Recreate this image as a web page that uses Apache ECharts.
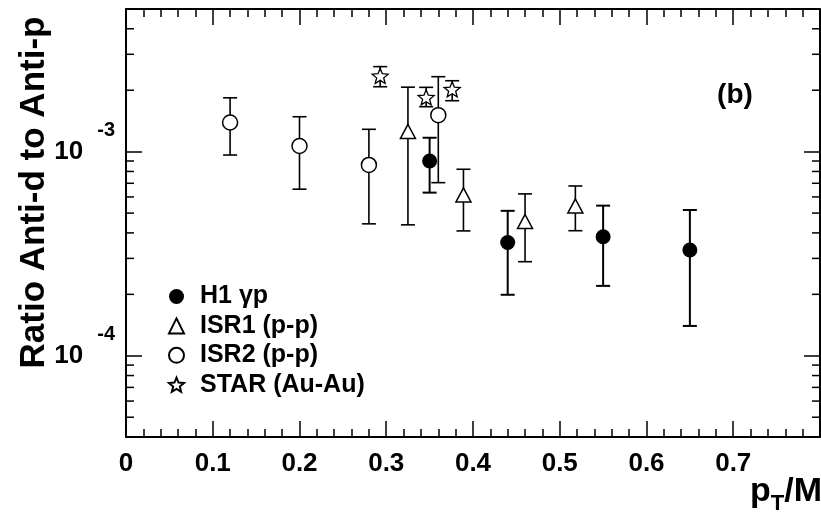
<!DOCTYPE html>
<html><head><meta charset="utf-8">
<script src="https://cdn.jsdelivr.net/npm/echarts@6/dist/echarts.min.js"></script>
<style>html,body{margin:0;padding:0;background:#fff}#c{width:821px;height:514px}</style>
</head><body><div id="c"></div>
<script>
// ---- data ----
const xTickLabels = ['0', '0.1', '0.2', '0.3', '0.4', '0.5', '0.6', '0.7'];
const yMinorTicks = [5e-5, 6e-5, 7e-5, 8e-5, 9e-5, 2e-4, 3e-4, 4e-4, 5e-4, 6e-4, 7e-4, 8e-4, 9e-4, 2e-3, 3e-3, 4e-3];

const seriesNames = ['H1 \u03b3p', 'ISR1 (p-p)', 'ISR2 (p-p)', 'STAR (Au-Au)'];

const h1X  = [0.35, 0.44, 0.55, 0.65];
const h1Y  = [9.0e-4, 3.59e-4, 3.83e-4, 3.30e-4];
const h1Lo = [6.30e-4, 1.99e-4, 2.20e-4, 1.40e-4];
const h1Hi = [1.17e-3, 5.13e-4, 5.44e-4, 5.18e-4];

const isr1X  = [0.325, 0.389, 0.46, 0.518];
const isr1Y  = [1.256e-3, 6.14e-4, 4.55e-4, 5.42e-4];
const isr1Lo = [4.38e-4, 4.09e-4, 2.89e-4, 4.10e-4];
const isr1Hi = [2.07e-3, 8.20e-4, 6.21e-4, 6.79e-4];

const isr2X  = [0.12, 0.2, 0.28, 0.36];
const isr2Y  = [1.39e-3, 1.066e-3, 8.61e-4, 1.51e-3];
const isr2Lo = [9.63e-4, 6.55e-4, 4.43e-4, 7.05e-4];
const isr2Hi = [1.836e-3, 1.483e-3, 1.287e-3, 2.33e-3];

const starX  = [0.293, 0.346, 0.376];
const starY  = [2.35e-3, 1.845e-3, 2.02e-3];
const starLo = [2.08e-3, 1.661e-3, 1.777e-3];
const starHi = [2.61e-3, 2.066e-3, 2.226e-3];

// ---- chart ----
const FONT = '"Liberation Sans", Arial, Helvetica, sans-serif';
const starPath = 'path://M0,-10L2.6,-3.6L9.51,-3.09L4.2,1.37L5.88,8.09L0,4.4L-5.88,8.09L-4.2,1.37L-9.51,-3.09L-2.6,-3.6Z';

function pts(xs, ys) { return xs.map((x, i) => [x, ys[i]]); }
function errs(xs, lo, hi) { return xs.map((x, i) => [x, lo[i], hi[i]]); }

function errRender(capW, lw) {
  return function (params, api) {
    const x = api.value(0), lo = api.value(1), hi = api.value(2);
    const t = api.coord([x, hi]), b = api.coord([x, lo]);
    const st = { stroke: '#000', lineWidth: lw };
    return { type: 'group', children: [
      { type: 'line', shape: { x1: t[0], y1: t[1], x2: b[0], y2: b[1] }, style: st },
      { type: 'line', shape: { x1: t[0] - capW / 2, y1: t[1], x2: t[0] + capW / 2, y2: t[1] }, style: st },
      { type: 'line', shape: { x1: b[0] - capW / 2, y1: b[1], x2: b[0] + capW / 2, y2: b[1] }, style: st }
    ]};
  };
}

function errSeries(data, lw) {
  return { type: 'custom', data: data, renderItem: errRender(14, lw), z: 2, clip: false,
    encode: { x: 0, y: [1, 2] }, silent: true };
}

const xAxisBase = {
  type: 'value', min: 0, max: 0.8, interval: 0.1,
  axisLine: { show: true, onZero: false, lineStyle: { color: '#000', width: 2 } },
  axisTick: { show: true, inside: true, length: 16, lineStyle: { color: '#000', width: 1.5 } },
  minorTick: { show: true, splitNumber: 5, length: 8, lineStyle: { color: '#000', width: 1.5 } },
  splitLine: { show: false }, minorSplitLine: { show: false }
};
const yAxisBase = {
  type: 'log', logBase: 10, min: 4e-5, max: 5e-3,
  axisLine: { show: true, onZero: false, lineStyle: { color: '#000', width: 2 } },
  axisTick: { show: true, inside: true, length: 16, lineStyle: { color: '#000', width: 1.5 } },
  splitLine: { show: false }
};

const chart = echarts.init(document.getElementById('c'), null, { renderer: 'canvas' });
chart.setOption({
  animation: false,
  backgroundColor: '#fff',
  grid: { left: 126, right: 1, top: 9, bottom: 77, containLabel: false },
  xAxis: [
    Object.assign({}, xAxisBase, { position: 'bottom',
      axisLabel: { show: true, margin: 14, showMaxLabel: false, color: '#000',
        fontFamily: FONT, fontWeight: 'bold', fontSize: 26,
        formatter: function (v) { const i = Math.round(v * 10); return Math.abs(v * 10 - i) < 1e-6 && xTickLabels[i] !== undefined ? xTickLabels[i] : ''; } } }),
    Object.assign({}, xAxisBase, { position: 'top', axisLabel: { show: false } })
  ],
  yAxis: [
    Object.assign({}, yAxisBase, { position: 'left',
      axisLabel: { show: true, margin: 11, color: '#000', showMinLabel: false, showMaxLabel: false,
        formatter: function (v) {
          const l = Math.log10(v), e = Math.round(l);
          if (Math.abs(l - e) > 1e-6) return '';
          return '{b|10}{s|' + e + '}';
        },
        rich: {
          b: { fontFamily: FONT, fontWeight: 'bold', fontSize: 26, lineHeight: 62, color: '#000' },
          s: { fontFamily: FONT, fontWeight: 'bold', fontSize: 20, lineHeight: 22, verticalAlign: 'top', padding: [0, 0, 0, 14], color: '#000' }
        } } }),
    Object.assign({}, yAxisBase, { position: 'right', axisLabel: { show: false } })
  ],
  legend: {
    orient: 'vertical', left: 163, top: 279, itemWidth: 15, itemHeight: 15, itemGap: 4.4,
    data: seriesNames,
    textStyle: { fontFamily: FONT, fontWeight: 'bold', fontSize: 25, color: '#000', padding: [0, 0, 0, 11] },
    selectedMode: false
  },
  graphic: [
    { type: 'text', x: 34, y: 192.5, rotation: Math.PI / 2,
      style: { text: 'Ratio Anti-d to Anti-p', fontFamily: FONT, fontWeight: 'bold', fontSize: 35, fill: '#000',
        align: 'center', verticalAlign: 'middle' } },
    { type: 'text', x: 822, y: 492,
      style: { text: '{p|p}{t|T}{p|/M}', align: 'right', verticalAlign: 'middle',
        rich: {
          p: { fontFamily: FONT, fontWeight: 'bold', fontSize: 34, lineHeight: 46, fill: '#000' },
          t: { fontFamily: FONT, fontWeight: 'bold', fontSize: 22, lineHeight: 22, verticalAlign: 'bottom', fill: '#000' }
        } } },
    { type: 'text', x: 735, y: 95,
      style: { text: '(b)', fontFamily: FONT, fontWeight: 'bold', fontSize: 28, fill: '#000', align: 'center', verticalAlign: 'middle' } }
  ],
  series: [
    { type: 'custom', data: yMinorTicks.map(v => [0, v]), clip: false, z: 1, silent: true,
      renderItem: function (params, api) {
        const v = api.value(1);
        const l = api.coord([0, v]), r = api.coord([0.8, v]);
        const st = { stroke: '#000', lineWidth: 1.5 };
        return { type: 'group', children: [
          { type: 'line', shape: { x1: l[0], y1: l[1], x2: l[0] + 8, y2: l[1] }, style: st },
          { type: 'line', shape: { x1: r[0] - 8, y1: r[1], x2: r[0], y2: r[1] }, style: st }
        ]};
      } },
    errSeries(errs(h1X, h1Lo, h1Hi), 2),
    errSeries(errs(isr1X, isr1Lo, isr1Hi), 1.6),
    errSeries(errs(isr2X, isr2Lo, isr2Hi), 1.6),
    errSeries(errs(starX, starLo, starHi), 1.6),
    { name: seriesNames[0], type: 'scatter', z: 3, data: pts(h1X, h1Y), symbol: 'circle', symbolSize: 15,
      itemStyle: { color: '#000', borderColor: '#000', borderWidth: 0, opacity: 1 } },
    { name: seriesNames[1], type: 'scatter', z: 3, data: pts(isr1X, isr1Y), symbol: 'triangle', symbolSize: [15, 14],
      itemStyle: { color: '#fff', borderColor: '#000', borderWidth: 1.5, opacity: 1 } },
    { name: seriesNames[2], type: 'scatter', z: 3, data: pts(isr2X, isr2Y), symbol: 'circle', symbolSize: 15,
      itemStyle: { color: '#fff', borderColor: '#000', borderWidth: 1.5, opacity: 1 } },
    { name: seriesNames[3], type: 'scatter', z: 3, data: pts(starX, starY), symbol: starPath, symbolSize: [16, 15],
      itemStyle: { color: '#fff', borderColor: '#000', borderWidth: 1.3, opacity: 1 } }
  ]
});
</script>
</body></html>
